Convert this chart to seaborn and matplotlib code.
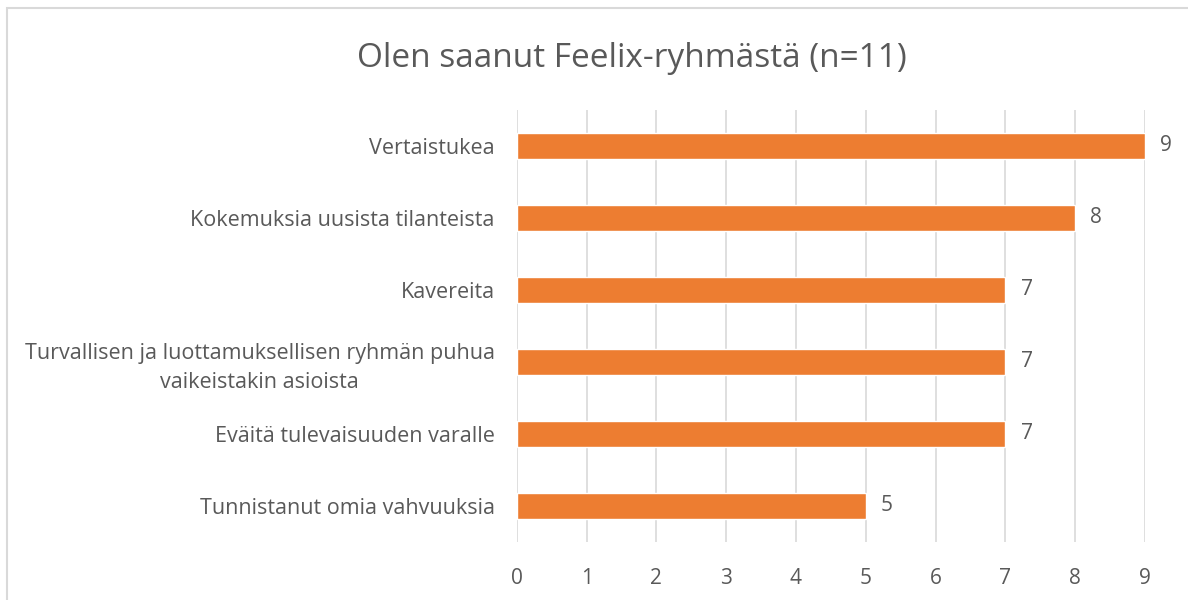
import matplotlib.pyplot as plt
import matplotlib.patches as patches
import pandas as pd
import seaborn as sns

# Olen saanut Feelix-ryhmästä (n=11)
categories = ["Vertaistukea",
              "Kokemuksia uusista tilanteista",
              "Kavereita",
              "Turvallisen ja luottamuksellisen ryhmän puhua\nvaikeistakin asioista",
              "Eväitä tulevaisuuden varalle",
              "Tunnistanut omia vahvuuksia"]
counts = [9, 8, 7, 7, 7, 5]
xticks = [0, 1, 2, 3, 4, 5, 6, 7, 8, 9]

df = pd.DataFrame({"vastaus": categories, "lkm": counts})

sns.set_style("white")
plt.rcParams['font.family'] = ['Open Sans', 'DejaVu Sans']
textcol = "#595959"

fig = plt.figure(figsize=(11.88, 6), dpi=100)
ax = fig.add_axes([0.435, 0.097, 0.5287, 0.72])

sns.barplot(data=df, x="lkm", y="vastaus", order=categories,
            color="#ED7D31", saturation=1, width=0.36, ax=ax)

ax.set_xlim(0, 9)
ax.set_ylim(5.5, -0.5)
ax.set_xticks(xticks)
ax.xaxis.grid(True, color="#D9D9D9", linewidth=1.2)
ax.set_axisbelow(True)
for s in ax.spines.values():
    s.set_visible(False)
ax.tick_params(axis="x", colors=textcol, labelsize=15, length=0, pad=19)
ax.tick_params(axis="y", colors=textcol, labelsize=15.5, length=0, pad=16)
for lab in ax.get_yticklabels():
    lab.set_multialignment("center")
    lab.set_linespacing(1.45)
ax.set_xlabel("")
ax.set_ylabel("")

# value labels
for i, v in enumerate(counts):
    ax.text(v + 0.22, i, str(v), va="center", ha="left", fontsize=15, color=textcol)

fig.suptitle("Olen saanut Feelix-ryhmästä (n=11)", x=0.532, y=0.93,
             fontsize=24, color=textcol)

# chart border
fig.patches.append(patches.Rectangle((7 / 1188, -0.1), 1.2, 1 - 8 / 600 + 0.1,
                                     transform=fig.transFigure, fill=False,
                                     edgecolor="#D9D9D9", linewidth=1.5))

plt.savefig("out.png", dpi=100)
